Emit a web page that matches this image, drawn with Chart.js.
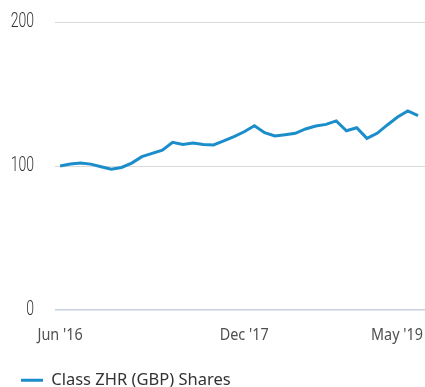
<!DOCTYPE html>
<html>
<head>
<meta charset="utf-8">
<script src="https://cdn.jsdelivr.net/npm/chart.js@4/dist/chart.umd.min.js"></script>
<style>
  html, body { margin: 0; padding: 0; background: #fff; }
  #wrap { width: 425px; height: 387px; position: relative; }
</style>
</head>
<body>
<div id="wrap"><canvas id="c"></canvas></div>
<script>
// Monthly growth of 100, Jun 2016 – May 2019
const seriesName = "Class ZHR (GBP) Shares";
const values = [
  100, 101.4, 102, 101.3, 99.5, 97.8, 99, 102, 106.5, 108.8, 111, 116.5,
  115, 116, 115, 114.6, 117.4, 120.4, 123.8, 128, 123.1, 120.8, 121.7, 122.7,
  125.7, 127.8, 128.9, 131.3, 124.5, 126.6, 119.2, 122.7, 128.5, 134, 138.2, 135
];
const xTickIndex = [0, 18, 35];
const xTickLabels = ["Jun '16", "Dec '17", "May '19"];
const yTicks = [0, 100, 200];

const lineColor = '#1b8dca';

// Axis labels: narrow value labels on the left, date labels under the plot
// (the last date is kept inside the canvas)
const axisLabels = {
  id: 'axisLabels',
  afterDraw(chart) {
    const { ctx, scales } = chart;
    const xs = scales.x, ys = scales.y;
    ctx.save();

    ctx.font = '300 19.5px Roboto, "Liberation Sans", sans-serif';
    ctx.fillStyle = '#333';
    ctx.textBaseline = 'middle';
    ctx.textAlign = 'right';
    yTicks.forEach(v => {
      const y = ys.getPixelForValue(v);
      ctx.save();
      ctx.translate(34, y);
      ctx.scale(0.72, 1);
      ctx.fillText(String(v), 0, 0);
      ctx.restore();
    });

    ctx.font = '16px "Noto Sans", sans-serif';
    ctx.fillStyle = '#505050';
    const sx = 0.9;
    xTickIndex.forEach((idx, i) => {
      const label = xTickLabels[i];
      const w = ctx.measureText(label).width * sx;
      let x = xs.getPixelForValue(idx) - w / 2;
      if (x + w > chart.width - 2) x = chart.width - 2 - w;
      ctx.save();
      ctx.translate(x, 335);
      ctx.scale(sx, 1);
      ctx.textAlign = 'left';
      ctx.fillText(label, 0, 0);
      ctx.restore();
    });
    ctx.restore();
  }
};

new Chart(document.getElementById('c'), {
  type: 'line',
  data: {
    datasets: [{
      label: seriesName,
      data: values.map((v, i) => ({ x: i, y: v })),
      borderColor: lineColor,
      backgroundColor: lineColor,
      borderWidth: 3,
      pointRadius: 0,
      tension: 0,
      fill: false
    }]
  },
  options: {
    responsive: true,
    maintainAspectRatio: false,
    animation: false,
    layout: { padding: { top: 22, right: 0, left: 0, bottom: 0 } },
    plugins: {
      tooltip: { enabled: false },
      legend: {
        position: 'bottom',
        align: 'start',
        maxHeight: 36,
        labels: {
          boxWidth: 22,
          boxHeight: 3,
          padding: 21,
          color: '#333',
          font: { family: '"Noto Sans", sans-serif', size: 16.5 },
          generateLabels(chart) {
            return Chart.defaults.plugins.legend.labels.generateLabels(chart)
              .map(l => Object.assign(l, { lineWidth: 0, fillStyle: lineColor }));
          }
        }
      }
    },
    scales: {
      x: {
        type: 'linear',
        min: -0.5,
        max: 35.68,
        grid: { display: false },
        border: { display: false },
        ticks: { display: false },
        afterFit(scale) { scale.height = 41; }
      },
      y: {
        min: 0,
        max: 200,
        afterBuildTicks(scale) { scale.ticks = yTicks.map(v => ({ value: v })); },
        afterFit(scale) { scale.width = 55; },
        border: { display: false },
        grid: {
          drawTicks: false,
          color: ctx => ctx.tick && ctx.tick.value === 0 ? '#c6d1db' : '#dadada',
          lineWidth: ctx => ctx.tick && ctx.tick.value === 0 ? 1.5 : 1
        },
        ticks: { display: false }
      }
    }
  },
  plugins: [axisLabels]
});
</script>
</body>
</html>
